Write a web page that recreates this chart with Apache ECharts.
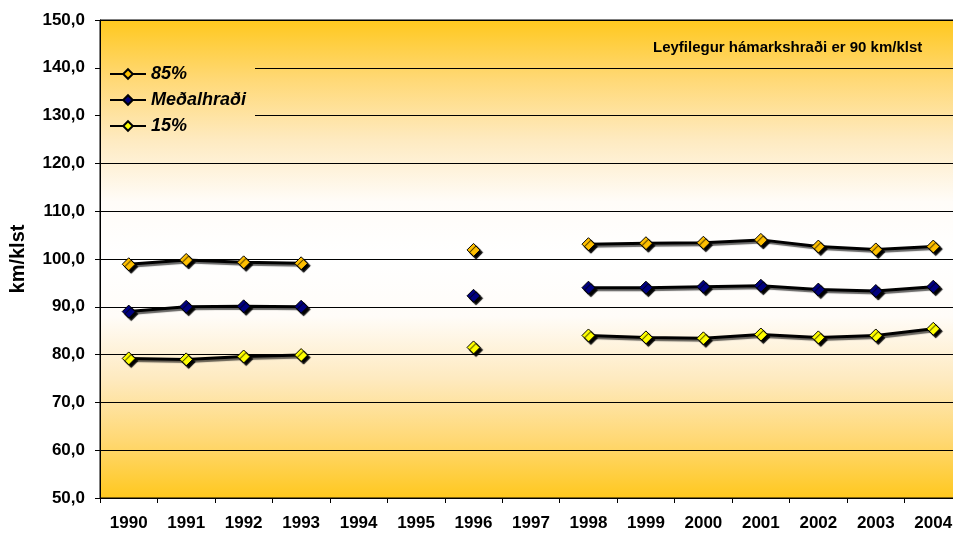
<!DOCTYPE html>
<html>
<head>
<meta charset="utf-8">
<script src="https://cdn.jsdelivr.net/npm/echarts@6/dist/echarts.min.js"></script>
<style>
  html, body { margin: 0; padding: 0; background: #fff; }
  #chart { width: 953px; height: 534px; }
</style>
</head>
<body>
<div id="chart"></div>
<script>
// ár
var years = ['1990','1991','1992','1993','1994','1995','1996','1997','1998','1999','2000','2001','2002','2003','2004'];
// 85% hraði
var p85 = [98.9, 99.8, 99.3, 99.1, null, null, 101.9, null, 103.1, 103.3, 103.4, 104.0, 102.6, 102.0, 102.6];
// meðalhraði
var medal = [89.0, 90.0, 90.1, 90.0, null, null, 92.3, null, 94.0, 94.0, 94.2, 94.4, 93.6, 93.3, 94.2];
// 15% hraði
var p15 = [79.2, 79.0, 79.6, 79.9, null, null, 81.5, null, 84.0, 83.6, 83.4, 84.2, 83.6, 84.0, 85.4];
var seriesNames = ['85%', 'Meðalhraði', '15%'];
var seriesColors = ['#FFC000', '#000080', '#FFFF00'];

var font = '"Liberation Sans", Arial, sans-serif';

// bakgrunnur: gull - hvítt - gull
function bg(){
	return {
		type: 'linear', x: 0, y: 20, x2: 0, y2: 498, global: true,
		colorStops: [
			{offset: 0, color: '#FFC81E'},
			{offset: 0.12, color: '#FFD873'},
			{offset: 0.25, color: '#FEEAC0'},
			{offset: 0.38, color: '#FFFCF8'},
			{offset: 0.5, color: '#FFFFFF'},
			{offset: 0.62, color: '#FFFCF8'},
			{offset: 0.75, color: '#FEEAC0'},
			{offset: 0.88, color: '#FFD873'},
			{offset: 1, color: '#FFC81E'}
		]
	};
}

function makeSeries(name, data, color){
	return {
		name: name,
		type: 'line',
		data: data,
		connectNulls: false,
		symbol: 'diamond',
		symbolSize: 13,
		showAllSymbol: true,
		animation: false,
		lineStyle: {
			color: '#000', width: 3,
			shadowColor: 'rgba(0,0,0,0.6)', shadowBlur: 1, shadowOffsetX: 2, shadowOffsetY: 2
		},
		itemStyle: {
			color: color, borderColor: '#000', borderWidth: 1,
			shadowColor: '#000', shadowBlur: 1, shadowOffsetX: 2.5, shadowOffsetY: 2.5
		},
		emphasis: { disabled: true }
	};
}

var chart = echarts.init(document.getElementById('chart'));
chart.setOption({
	animation: false,
	backgroundColor: '#fff',
	grid: {
		left: 100, top: 20, width: 862, height: 478,
		outerBoundsMode: 'none',
		containLabel: false,
		show: true, backgroundColor: bg(), borderColor: '#000', borderWidth: 1
	},
	legend: {
		orient: 'vertical',
		left: 104, top: 60,
		itemWidth: 36, itemHeight: 12, itemGap: 8,
		data: seriesNames,
		textStyle: { fontFamily: font, fontSize: 18, fontWeight: 'bold', fontStyle: 'italic', color: '#000' }
	},
	graphic: [
		{
			type: 'rect', z: 1, silent: true,
			shape: { x: 101, y: 56, width: 154, height: 80 },
			style: { fill: bg() }
		},
		{
			type: 'text', z: 5, left: 653, top: 40,
			style: {
				text: 'Leyfilegur hámarkshraði er 90 km/klst',
				font: 'bold 15px ' + font, fill: '#000'
			}
		}
	],
	xAxis: {
		type: 'category',
		data: years,
		boundaryGap: true,
		axisLine: { lineStyle: { color: '#000', width: 1 } },
		axisTick: { show: true, length: 5, lineStyle: { color: '#000' } },
		axisLabel: { margin: 17, interval: 0, color: '#000', fontFamily: font, fontSize: 17, fontWeight: 'bold' },
		splitLine: { show: false }
	},
	yAxis: {
		type: 'value',
		min: 50, max: 150, interval: 10,
		name: 'km/klst',
		nameLocation: 'middle',
		nameRotate: 90,
		nameGap: 72,
		nameTextStyle: { color: '#000', fontFamily: font, fontSize: 20, fontWeight: 'bold' },
		axisLine: { show: true, lineStyle: { color: '#000', width: 1 } },
		axisTick: { show: true, length: 5, lineStyle: { color: '#000' } },
		axisLabel: {
			margin: 15, color: '#000', fontFamily: font, fontSize: 17, fontWeight: 'bold',
			formatter: function(v){ return v.toFixed(1).replace('.', ','); }
		},
		splitLine: { show: true, lineStyle: { color: '#000', width: 1 } }
	},
	series: [
		makeSeries(seriesNames[0], p85, seriesColors[0]),
		makeSeries(seriesNames[1], medal, seriesColors[1]),
		makeSeries(seriesNames[2], p15, seriesColors[2])
	]
});
</script>
</body>
</html>
